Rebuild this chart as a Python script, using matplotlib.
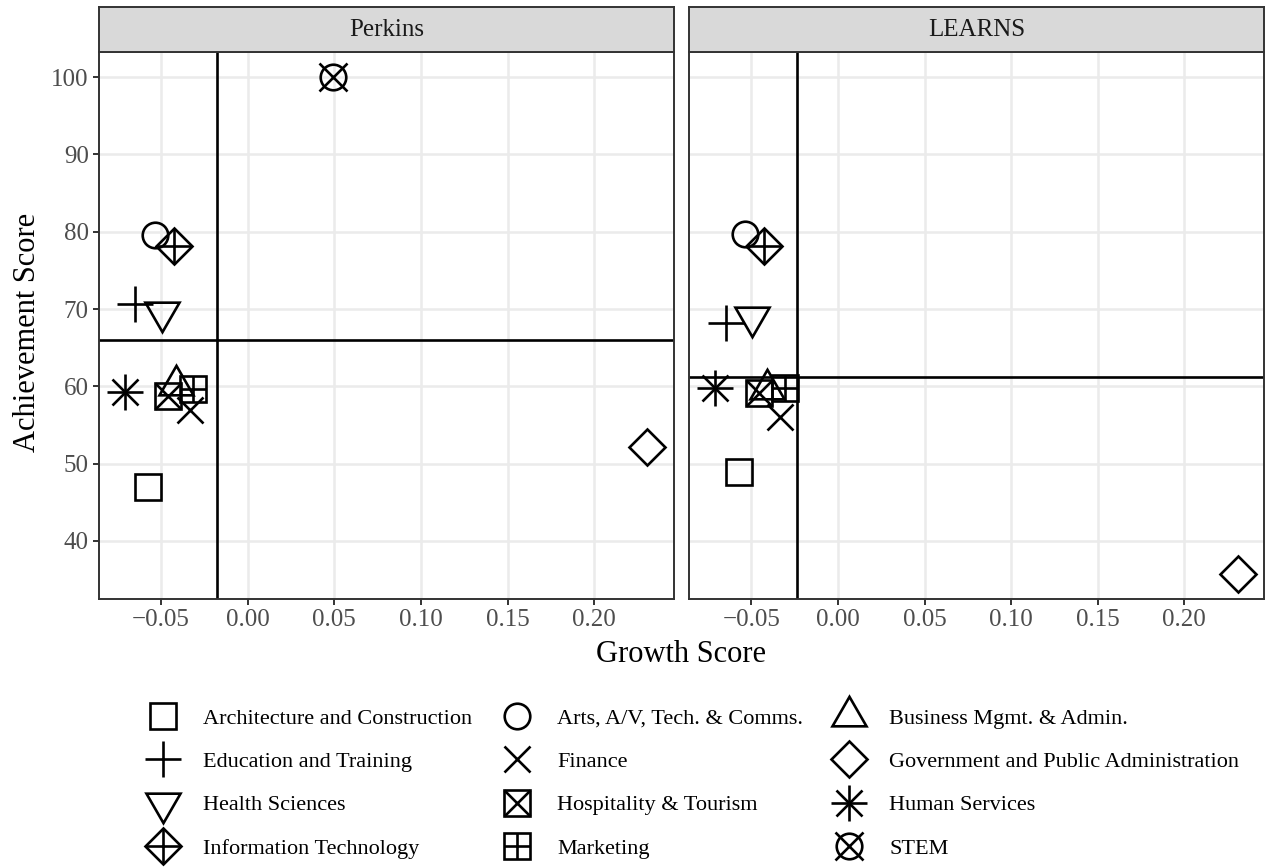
import numpy as np
import matplotlib.pyplot as plt
from matplotlib.lines import Line2D
from matplotlib.legend_handler import HandlerTuple

plt.rcParams['font.family'] = ['Liberation Serif', 'DejaVu Serif']

# data
programs = ['Architecture and Construction', 'Arts, A/V, Tech. & Comms.',
            'Business Mgmt. & Admin.', 'Education and Training', 'Finance',
            'Government and Public Administration', 'Health Sciences',
            'Hospitality & Tourism', 'Human Services', 'Information Technology',
            'Marketing', 'STEM']
growth_perkins = [-0.0574, -0.0535, -0.0415, -0.0650, -0.0335, 0.2306,
                  -0.0496, -0.0458, -0.0710, -0.0425, -0.0315, 0.0490]
achieve_perkins = [47.0, 79.6, 60.2, 70.7, 56.9, 52.1,
                   69.6, 58.8, 59.3, 78.1, 59.7, 100.0]
growth_learns = [-0.0574, -0.0535, -0.0410, -0.0650, -0.0333, 0.2309,
                 -0.0496, -0.0458, -0.0708, -0.0425, -0.0308, np.nan]
achieve_learns = [48.9, 79.7, 59.6, 68.2, 56.0, 35.7,
                  69.0, 59.1, 59.8, 78.1, 59.8, np.nan]
panels = ['Perkins', 'LEARNS']

# ggplot-like shapes (marker, size in pt), composites are overlaid
SQ = 18.4
PL = SQ * 1.414
TRI = 28.3
shapes = {
    'Architecture and Construction': [('s', SQ)],
    'Arts, A/V, Tech. & Comms.': [('o', SQ)],
    'Business Mgmt. & Admin.': [((3, 0, 0), TRI)],
    'Education and Training': [('+', PL)],
    'Finance': [('x', SQ)],
    'Government and Public Administration': [('D', SQ)],
    'Health Sciences': [((3, 0, 180), TRI)],
    'Hospitality & Tourism': [('s', SQ), ('x', SQ)],
    'Human Services': [('+', PL), ('x', SQ)],
    'Information Technology': [('D', SQ), ('+', PL)],
    'Marketing': [('s', SQ), ('+', SQ)],
    'STEM': [('o', SQ), ('x', SQ * 1.1)],
}
MEW = 1.9

W, H = 1265, 868
fig = plt.figure(figsize=(W / 100, H / 100), dpi=100)

def frac(x0, x1, ytop, ybot):
    return [x0 / W, 1 - ybot / H, (x1 - x0) / W, (ybot - ytop) / H]

panel_px = [(98.5, 674), (689, 1264)]
top_px, bot_px, strip_top = 52.3, 599, 6.7

gx = np.array(growth_perkins + growth_learns, dtype=float)
ay = np.array(achieve_perkins + achieve_learns, dtype=float)
xlo, xhi = np.nanmin(gx), np.nanmax(gx)
ylo, yhi = np.nanmin(ay), np.nanmax(ay)
xpad, ypad = 0.05 * (xhi - xlo), 0.05 * (yhi - ylo)

for i, (name, xs, ys) in enumerate(zip(panels, [growth_perkins, growth_learns],
                                       [achieve_perkins, achieve_learns])):
    x0, x1 = panel_px[i]
    ax = fig.add_axes(frac(x0, x1, top_px, bot_px))
    xs = np.array(xs, dtype=float)
    ys = np.array(ys, dtype=float)
    ax.set_xlim(xlo - xpad, xhi + xpad)
    ax.set_ylim(ylo - ypad, yhi + ypad)
    ax.set_xticks([-0.05, 0.0, 0.05, 0.10, 0.15, 0.20])
    ax.set_xticklabels(['\u22120.05', '0.00', '0.05', '0.10', '0.15', '0.20'])
    ax.set_yticks([40, 50, 60, 70, 80, 90, 100])
    ax.grid(True, color='#EBEBEB', linewidth=1.8, zorder=0)
    ax.set_axisbelow(True)
    ax.tick_params(colors='#333333', labelcolor='#4D4D4D', labelsize=18,
                   width=1.4, length=4, pad=3)
    if i == 1:
        ax.tick_params(axis='y', labelleft=False, length=0)
    for s in ax.spines.values():
        s.set_color('#333333')
        s.set_linewidth(1.4)
    ax.axvline(np.nanmean(xs), color='black', linewidth=1.9, zorder=2)
    ax.axhline(np.nanmean(ys), color='black', linewidth=1.9, zorder=2)
    for p, xv, yv in zip(programs, xs, ys):
        if np.isnan(xv):
            continue
        for m, ms in shapes[p]:
            ax.plot([xv], [yv], linestyle='none', marker=m, ms=ms, mfc='none',
                    mec='black', mew=MEW, zorder=3, clip_on=False)
    # strip
    sax = fig.add_axes(frac(x0, x1, strip_top, top_px))
    sax.set_facecolor('#D9D9D9')
    sax.set_xticks([])
    sax.set_yticks([])
    for s in sax.spines.values():
        s.set_color('#333333')
        s.set_linewidth(1.4)
    sax.text(0.5, 0.5, name, ha='center', va='center', fontsize=18,
             color='#1A1A1A', transform=sax.transAxes)

fig.text(28 / W, 1 - 332 / H, 'Achievement Score', rotation=90, ha='center',
         va='center', fontsize=22)
fig.text(681 / W, 1 - 655 / H, 'Growth Score', ha='center', va='center',
         fontsize=22)

# legend, filled row-wise like ggplot
handles = []
for p in programs:
    parts = tuple(Line2D([], [], linestyle='none', marker=m, ms=ms, mfc='none',
                         mec='black', mew=MEW) for m, ms in shapes[p])
    handles.append(parts)
order = [0, 3, 6, 9, 1, 4, 7, 10, 2, 5, 8, 11]
fig.legend([handles[k] for k in order], [programs[k] for k in order],
           handler_map={tuple: HandlerTuple(ndivide=1)},
           loc='upper left', bbox_to_anchor=(145 / W, 1 - 708 / H), ncol=3,
           frameon=False, fontsize=16, handlelength=1.6, handletextpad=1.0,
           columnspacing=1.25, labelspacing=1.03, borderpad=0, borderaxespad=0)

fig.savefig('out.png', dpi=100)
